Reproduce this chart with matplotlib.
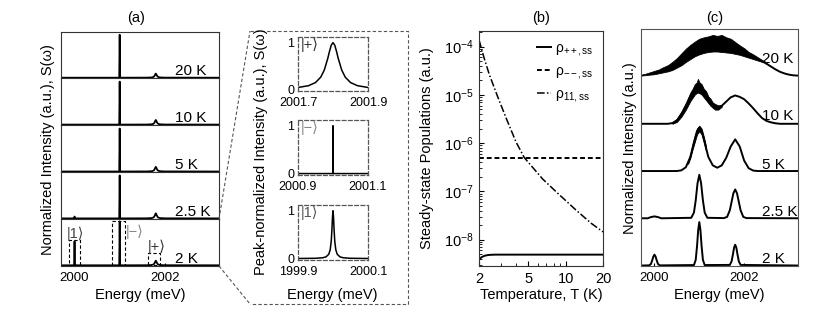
import numpy as np
import matplotlib
matplotlib.use("Agg")
import matplotlib.pyplot as plt
from matplotlib.patches import Rectangle
from matplotlib.lines import Line2D
from matplotlib.ticker import FixedLocator, NullFormatter, LogLocator, NullLocator

plt.rcParams['font.family'] = ['Liberation Sans', 'DejaVu Sans']
plt.rcParams['mathtext.fontset'] = 'custom'
plt.rcParams['mathtext.rm'] = 'Liberation Sans'
plt.rcParams['mathtext.it'] = 'Liberation Sans'
plt.rcParams['mathtext.bf'] = 'Liberation Sans'
plt.rcParams['mathtext.default'] = 'regular'
plt.rcParams['axes.unicode_minus'] = False

# --- panel (a): emission spectra, one box per temperature --- #
temps = ["20 K", "10 K", "5 K", "2.5 K", "2 K"]
energy_a = [1999.7, 1999.99, 2000.0, 2000.01, 2000.99, 2001.0, 2001.01,
            2001.6, 2001.7, 2001.74, 2001.76, 2001.78, 2001.79, 2001.8,
            2001.81, 2001.82, 2001.84, 2001.86, 2001.9, 2002.0, 2003.2]
spec_a_20K = [0, 0, 0, 0, 0, 0.93, 0,
              0.0014, 0.0053, 0.0133, 0.025, 0.055, 0.077, 0.09,
              0.077, 0.055, 0.025, 0.0133, 0.0053, 0.0014, 0]
spec_a_10K = [0, 0, 0, 0, 0, 0.93, 0,
              0.0015, 0.0059, 0.0148, 0.028, 0.061, 0.086, 0.1,
              0.086, 0.061, 0.028, 0.0148, 0.0059, 0.0015, 0]
spec_a_5K = [0, 0, 0, 0, 0, 0.93, 0,
             0.0015, 0.0059, 0.0148, 0.028, 0.061, 0.086, 0.1,
             0.086, 0.061, 0.028, 0.0148, 0.0059, 0.0015, 0]
spec_a_2p5K = [0, 0, 0.04, 0, 0, 0.93, 0,
               0.0017, 0.0065, 0.016, 0.031, 0.067, 0.095, 0.11,
               0.095, 0.067, 0.031, 0.016, 0.0065, 0.0017, 0]
spec_a_2K = [0, 0, 0.52, 0, 0, 0.95, 0,
             0.0015, 0.0059, 0.0148, 0.028, 0.061, 0.086, 0.1,
             0.086, 0.061, 0.028, 0.0148, 0.0059, 0.0015, 0]
spectra_a = [spec_a_20K, spec_a_10K, spec_a_5K, spec_a_2p5K, spec_a_2K]

# zoom boxes in the 2 K box: (left, right, top)
zoom_boxes = [(1999.87, 2000.13, 0.55), (2000.84, 2001.12, 0.96), (2001.63, 2001.90, 0.26)]

# --- zoomed insets, peak normalised --- #
plus_e = [2001.7, 2001.73, 2001.75, 2001.765, 2001.775, 2001.785, 2001.79, 2001.795, 2001.8,
          2001.805, 2001.81, 2001.815, 2001.825, 2001.835, 2001.85, 2001.87, 2001.9]
plus_s = [0.045, 0.083, 0.15, 0.265, 0.414, 0.662, 0.815, 0.946, 1.0,
          0.946, 0.815, 0.662, 0.414, 0.265, 0.15, 0.083, 0.045]
minus_e = [2000.9, 2000.9995, 2001.0, 2001.0005, 2001.1]
minus_s = [0.0, 0.0, 1.0, 0.0, 0.0]
one_e = [1999.9, 1999.95, 1999.97, 1999.98, 1999.988, 1999.992, 1999.995, 1999.997, 1999.9985, 2000.0,
         2000.0015, 2000.003, 2000.005, 2000.008, 2000.012, 2000.02, 2000.03, 2000.05, 2000.1]
one_s = [0.0014, 0.0058, 0.016, 0.035, 0.091, 0.184, 0.366, 0.616, 0.865, 1.0,
         0.865, 0.616, 0.366, 0.184, 0.091, 0.035, 0.016, 0.0058, 0.0014]

# --- panel (b): steady-state populations --- #
temp_pp = [2.0, 2.05, 2.1, 2.2, 2.3, 2.45, 2.7, 3.0, 20.0]
rho_pp = [3.8e-9, 4.1e-9, 4.35e-9, 4.6e-9, 4.75e-9, 4.85e-9, 4.9e-9, 4.9e-9, 4.9e-9]
temp_mm = [2.0, 20.0]
rho_mm = [5.0e-7, 5.0e-7]
temp_11 = [2.0, 2.2, 2.43, 2.84, 3.31, 3.98, 4.64, 5.5, 6.5, 8.57, 12.0, 16.0, 20.0]
rho_11 = [1.38e-4, 5.75e-5, 2.57e-5, 8.9e-6, 3.3e-6, 1.05e-6, 5.0e-7, 3.0e-7, 1.82e-7,
          9.3e-8, 4.2e-8, 2.2e-8, 1.45e-8]

# --- panel (c): spectra offset by one unit each --- #
c2_e = [1999.7, 1999.88, 1999.92, 1999.95, 1999.975, 2000.0, 2000.025, 2000.05, 2000.08, 2000.12,
        2000.88, 2000.92, 2000.95, 2000.975, 2001.0, 2001.025, 2001.05, 2001.08, 2001.12,
        2001.68, 2001.72, 2001.75, 2001.775, 2001.8, 2001.825, 2001.85, 2001.88, 2001.92, 2003.2]
c2_s = [0, 0.003, 0.03, 0.11, 0.19, 0.23, 0.19, 0.11, 0.03, 0.003,
        0.01, 0.12, 0.42, 0.75, 0.92, 0.75, 0.42, 0.12, 0.01,
        0.013, 0.09, 0.24, 0.38, 0.44, 0.38, 0.24, 0.09, 0.013, 0]
c25_e = [1999.7, 1999.85, 1999.92, 2000.0, 2000.08, 2000.15,
         2000.82, 2000.88, 2000.92, 2000.96, 2001.0, 2001.04, 2001.08, 2001.12, 2001.18,
         2001.55, 2001.62, 2001.68, 2001.72, 2001.76, 2001.8, 2001.84, 2001.88, 2001.92,
         2001.98, 2002.05, 2003.2]
c25_s = [0, 0, 0.025, 0.04, 0.025, 0,
         0.01, 0.12, 0.38, 0.74, 0.92, 0.74, 0.38, 0.12, 0.01,
         0.004, 0.03, 0.17, 0.35, 0.53, 0.61, 0.53, 0.35, 0.17,
         0.03, 0.004, 0]
c5_e = [1999.7, 2000.5, 2000.6, 2000.7, 2000.8, 2000.9, 2000.95, 2001.0, 2001.05, 2001.1,
        2001.2, 2001.3, 2001.4, 2001.5, 2001.6, 2001.7, 2001.8, 2001.9, 2002.0, 2002.1,
        2002.2, 2002.3, 2003.2]
c5_s = [0, 0, 0.015, 0.08, 0.3, 0.68, 0.85, 0.92, 0.85, 0.68,
        0.3, 0.12, 0.07, 0.12, 0.28, 0.52, 0.67, 0.52, 0.22, 0.06,
        0.01, 0, 0]
c5_band_e = [2000.75, 2000.8, 2000.85, 2000.9, 2000.95, 2001.0, 2001.05, 2001.1, 2001.15]
c5_band_lo = [0.15, 0.28, 0.46, 0.62, 0.78, 0.84, 0.78, 0.61, 0.42]
c5_band_hi = [0.21, 0.36, 0.57, 0.74, 0.90, 0.96, 0.90, 0.73, 0.52]
c10_e = [1999.7, 2000.3, 2000.4, 2000.5, 2000.6, 2000.7, 2000.8, 2000.9, 2000.97, 2001.05,
         2001.15, 2001.25, 2001.35, 2001.42, 2001.5, 2001.6, 2001.7, 2001.8, 2001.9, 2002.0,
         2002.1, 2002.2, 2002.3, 2002.4, 2002.5, 2002.6, 2002.7, 2002.8, 2003.2]
c10_s = [0, 0, 0.015, 0.07, 0.2, 0.38, 0.58, 0.74, 0.8, 0.72,
         0.59, 0.45, 0.36, 0.34, 0.38, 0.47, 0.56, 0.6, 0.57, 0.52,
         0.43, 0.33, 0.22, 0.12, 0.06, 0.03, 0.01, 0, 0]
c10_band_e = [2000.4, 2000.5, 2000.6, 2000.7, 2000.8, 2000.85, 2000.9, 2000.94, 2000.97, 2001.0,
              2001.05, 2001.1, 2001.15, 2001.2, 2001.25, 2001.3, 2001.35, 2001.42, 2001.5]
c10_band_lo = [0.0, 0.04, 0.15, 0.30, 0.48, 0.55, 0.62, 0.65, 0.66, 0.65,
               0.62, 0.56, 0.50, 0.44, 0.38, 0.34, 0.30, 0.30, 0.36]
c10_band_hi = [0.03, 0.11, 0.26, 0.44, 0.66, 0.74, 0.84, 0.87, 0.95, 0.88,
               0.84, 0.74, 0.69, 0.58, 0.53, 0.45, 0.42, 0.39, 0.40]
c20_band_e = [1999.7, 1999.8, 1999.9, 2000.0, 2000.1, 2000.2, 2000.3, 2000.4, 2000.5, 2000.6,
              2000.7, 2000.8, 2000.9, 2001.0, 2001.1, 2001.2, 2001.3, 2001.4, 2001.5, 2001.6,
              2001.7, 2001.8, 2001.9, 2002.0, 2002.1, 2002.2, 2002.3, 2002.4, 2002.5]
c20_band_lo = [0.02, 0.03, 0.04, 0.05, 0.07, 0.09, 0.11, 0.14, 0.19, 0.24,
               0.31, 0.37, 0.43, 0.47, 0.50, 0.52, 0.53, 0.53, 0.52, 0.51,
               0.50, 0.48, 0.46, 0.43, 0.40, 0.37, 0.34, 0.31, 0.27]
c20_band_hi = [0.04, 0.06, 0.09, 0.12, 0.15, 0.20, 0.24, 0.31, 0.39, 0.49,
               0.59, 0.67, 0.74, 0.80, 0.83, 0.85, 0.88, 0.86, 0.88, 0.83,
               0.80, 0.73, 0.66, 0.60, 0.52, 0.47, 0.41, 0.35, 0.30]
c20_tail_e = [2002.5, 2002.6, 2002.7, 2002.8, 2002.9, 2003.0, 2003.1, 2003.2]
c20_tail_s = [0.27, 0.21, 0.15, 0.10, 0.065, 0.04, 0.025, 0.02]

W, H = 830, 321
fig = plt.figure(figsize=(W / 100, H / 100), dpi=100)


def px_axes(x0, y0, x1, y1):
    return fig.add_axes([x0 / W, 1 - y1 / H, (x1 - x0) / W, (y1 - y0) / H])


def px_line(xs, ys, **kw):
    fig.add_artist(Line2D([x / W for x in xs], [1 - y / H for y in ys],
                          transform=fig.transFigure, **kw))


def px_text(x, y, s, **kw):
    fig.text(x / W, 1 - y / H, s, ha='center', va='center', **kw)


EDGE = '#333333'
TICK_FS = 9.5
LAB_FS = 10.5
T_FS = 11
KET_FONT = ['Liberation Sans', 'DejaVu Sans']

# ---------------- panel (a) ---------------- #
a_top, a_step = 31.5, 46.9
for k, (lab, spec) in enumerate(zip(temps, spectra_a)):
    ax = px_axes(61, a_top + k * a_step, 219, a_top + (k + 1) * a_step)
    ax.plot(energy_a, spec, color='k', lw=1.3)
    ax.set_xlim(1999.7, 2003.2)
    ax.set_ylim(-0.015, 1)
    ax.yaxis.set_major_locator(NullLocator())
    for s in ax.spines.values():
        s.set_color(EDGE)
    ax.text(2002.22, 0.06, lab, fontsize=T_FS, ha='left', va='baseline')
    if k < 4:
        ax.xaxis.set_major_locator(NullLocator())
    else:
        ax.set_xticks([2000, 2002])
        ax.tick_params(axis='x', direction='in', length=2, labelsize=TICK_FS, pad=4)
        for (l, r, t) in zoom_boxes:
            ax.add_patch(Rectangle((l, 0), r - l, t, fill=False, ec='k', lw=0.8,
                                   ls=(0, (3, 2))))
        ax.text(1999.82, 0.69, '|1⟩', color='#444444', fontsize=10.5, va='center',
                family=KET_FONT)
        ax.text(2001.14, 0.72, '|−⟩', color='#888888', fontsize=10.5, va='center',
                family=KET_FONT)
        ax.text(2001.63, 0.39, '|+⟩', color='#333333', fontsize=10.5, va='center',
                family=KET_FONT)

px_text(136, 18, '(a)', fontsize=10.5)
px_text(140, 295, 'Energy (meV)', fontsize=LAB_FS)
px_text(48, 150, 'Normalized Intensity (a.u.), S(ω)', fontsize=LAB_FS, rotation=90)

# zoom call-out
zkw = dict(color='#555555', lw=0.8, ls=(0, (3, 2)))
px_line([219, 250], [219, 31], **zkw)
px_line([219, 250], [266, 304], **zkw)
px_line([250, 408, 408, 250], [31, 31, 304, 304], **zkw)

# ---------------- insets ---------------- #
insets = [
    (37, 91, plus_e, plus_s, (2001.7, 2001.9), ['2001.7', '2001.9'], '|+⟩', '#333333'),
    (120, 175, minus_e, minus_s, (2000.9, 2001.1), ['2000.9', '2001.1'], '|−⟩', '#888888'),
    (205, 260, one_e, one_s, (1999.9, 2000.1), ['1999.9', '2000.1'], '|1⟩', '#555555'),
]
for (y0, y1, xe, ys, xl, xt, ket, kc) in insets:
    ax = px_axes(298, y0, 368, y1)
    ax.plot(xe, ys, color='k', lw=1.1)
    ax.set_xlim(*xl)
    ax.set_ylim(-0.03, 1.12)
    ax.set_xticks(list(xl))
    ax.set_xticklabels(xt)
    ax.set_yticks([0, 1])
    ax.set_yticklabels(['0', '1'])
    ax.tick_params(length=0, labelsize=9, pad=2.5)
    ax.tick_params(axis='x', pad=4)
    for s in ax.spines.values():
        s.set_color('#555555')
        s.set_linestyle((0, (3, 2)))
        s.set_linewidth(0.9)
    ax.text(0.04, 0.86, ket, transform=ax.transAxes, color=kc, fontsize=10.5,
            va='center', family=KET_FONT)

px_text(332, 295, 'Energy (meV)', fontsize=LAB_FS)
px_text(261, 152, 'Peak-normalized Intensity (a.u.), S(ω)', fontsize=LAB_FS, rotation=90)

# ---------------- panel (b) ---------------- #
ax_b = px_axes(479, 31, 603, 266)
ax_b.set_xscale('log')
ax_b.set_yscale('log')
ax_b.plot(temp_pp, rho_pp, color='k', lw=1.4, label='ρ$_{++,ss}$')
ax_b.plot(temp_mm, rho_mm, color='k', lw=1.4, ls=(0, (2.5, 1.5)), label='ρ$_{--,ss}$')
ax_b.plot(temp_11, rho_11, color='k', lw=1.1, ls=(0, (5, 1.5, 1, 1.5)), label='ρ$_{11,ss}$')
ax_b.set_xlim(2, 20)
ax_b.set_ylim(2.85e-9, 2.1e-4)
ax_b.set_xticks([2, 5, 10, 20])
ax_b.set_xticklabels(['2', '5', '10', '20'])
ax_b.xaxis.set_minor_locator(FixedLocator([3, 4, 6, 7, 8, 9]))
ax_b.xaxis.set_minor_formatter(NullFormatter())
ax_b.yaxis.set_major_locator(FixedLocator([1e-8, 1e-7, 1e-6, 1e-5, 1e-4]))
ax_b.yaxis.set_minor_locator(LogLocator(subs=np.arange(2, 10), numticks=20))
ax_b.yaxis.set_minor_formatter(NullFormatter())
ax_b.tick_params(which='major', direction='in', length=3.5, labelsize=TICK_FS + 1, pad=4)
ax_b.tick_params(which='minor', direction='in', length=2)
for s in ax_b.spines.values():
    s.set_color(EDGE)
ax_b.legend(loc='upper right', frameon=False, fontsize=10, handlelength=1.0,
            handletextpad=0.3, labelspacing=0.45, borderaxespad=0.3)
px_text(541, 18, '(b)', fontsize=10.5)
px_text(541, 295, 'Temperature, T (K)', fontsize=LAB_FS)
px_text(427, 148, 'Steady-state Populations (a.u.)', fontsize=LAB_FS, rotation=90)

# ---------------- panel (c) ---------------- #
ax_c = px_axes(641, 29.3, 798, 266)
traces_c = [(3, c10_e, c10_s), (2, c5_e, c5_s), (1, c25_e, c25_s), (0, c2_e, c2_s)]
for off, xe, ys in traces_c:
    ax_c.plot(xe, [v + off for v in ys], color='k', lw=1.4)
ax_c.fill_between(c5_band_e, [v + 2 for v in c5_band_lo], [v + 2 for v in c5_band_hi],
                  color='k', lw=0.6)
ax_c.fill_between(c10_band_e, [v + 3 for v in c10_band_lo], [v + 3 for v in c10_band_hi],
                  color='k', lw=0.6)
ax_c.fill_between(c20_band_e, [v + 4 for v in c20_band_lo], [v + 4 for v in c20_band_hi],
                  color='k', lw=0.6)
ax_c.plot(c20_tail_e, [v + 4 for v in c20_tail_s], color='k', lw=1.4)
ax_c.set_xlim(1999.7, 2003.2)
ax_c.set_ylim(-0.01, 5.0)
ax_c.yaxis.set_major_locator(NullLocator())
ax_c.set_xticks([2000, 2002])
ax_c.tick_params(axis='x', direction='in', length=2, labelsize=TICK_FS, pad=4)
for s in ax_c.spines.values():
    s.set_color('#555555')
c_label_y = [4.28, 3.09, 2.05, 1.05, 0.06]
for lab, yy in zip(temps, c_label_y):
    ax_c.text(2002.4, yy, lab, fontsize=T_FS, ha='left', va='baseline')
px_text(715, 18, '(c)', fontsize=10.5)
px_text(719, 295, 'Energy (meV)', fontsize=LAB_FS)
px_text(630, 148, 'Normalized Intensity (a.u.)', fontsize=LAB_FS, rotation=90)

fig.savefig('out.png', dpi=100)
